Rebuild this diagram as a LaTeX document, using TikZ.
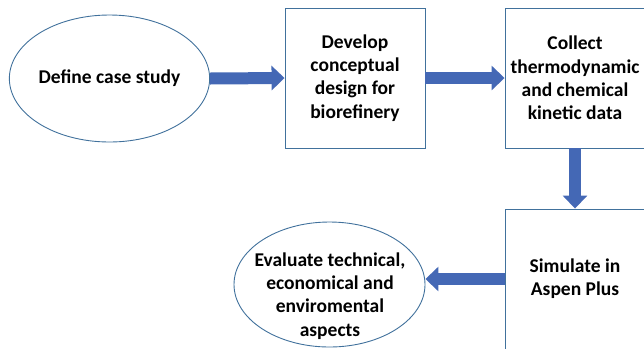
\documentclass[tikz,border=0pt]{standalone}
\usepackage{fontspec}
\setmainfont{Carlito}
\usetikzlibrary{shapes.geometric,arrows.meta}
\definecolor{outl}{HTML}{41719C}
\definecolor{arrf}{HTML}{4468B5}
\tikzset{
  x=1bp,y=-1bp,
  txt/.style={font=\bfseries\fontsize{19.5bp}{23.3bp}\selectfont,align=center,text=black},
  ell/.style={ellipse,draw=outl,line width=0.9bp,inner sep=0pt},
  boxn/.style={rectangle,draw=outl,line width=0.9bp,minimum width=140bp,minimum height=140bp,inner sep=0pt,txt},
  blockarrow/.style={draw=arrf,line width=12bp,-{Triangle[width=24bp,length=13bp]},shorten <=0pt}
}
\begin{document}
\begin{tikzpicture}
\useasboundingbox (0,0) rectangle (644,348);
\clip (0,0) rectangle (644,348);
\node[ell,txt,minimum width=191bp,minimum height=127bp] (case) at (109.5,78.5) {Define case study};
\node[boxn] (design) at (355,78) {Develop\\conceptual\\design for\\biorefinery};
\node[boxn] (collect) at (575,78) {Collect\\thermodynamic\\and chemical\\kinetic data};
\node[boxn] (sim) at (575,279) {Simulate in\\Aspen Plus};
\node[ell,minimum width=191bp,minimum height=125bp] (eval) at (329.5,284.5) {};
\node[txt] (evaltxt) at (330,296) {Evaluate technical,\\economical and\\enviromental\\aspects};
\draw[blockarrow] (case.east) -- (design.west);
\draw[blockarrow] (design.east) -- (collect.west);
\draw[blockarrow] (collect.south) -- (sim.north);
\draw[blockarrow] (sim.west) -- (sim.west -| eval.east);
\end{tikzpicture}
\end{document}
